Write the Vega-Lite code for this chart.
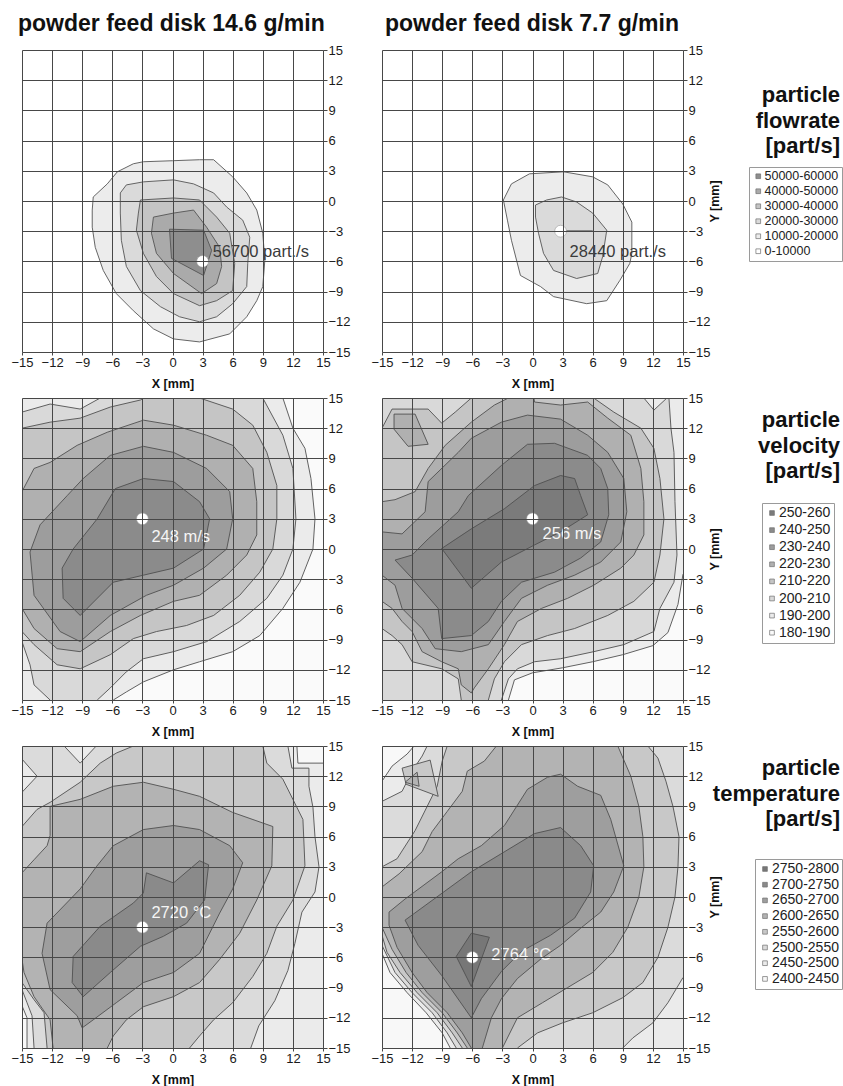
{
"$schema": "https://vega.github.io/schema/vega-lite/v6.json",
"background": "white",
"padding": {"left": 10, "top": 13, "right": 0, "bottom": 0},
"columns": 3,
"spacing": {"row": 46, "column": 59},
"bounds": "flush",
"resolve": {"scale": {"fill": "independent"}, "legend": {"fill": "independent"}},
"config": {
 "font": "Liberation Sans",
 "view": {"stroke": null},
 "axis": {"grid": true, "gridColor": "#474747", "gridWidth": 1, "gridOpacity": 1, "domain": false, "tickColor": "#474747", "tickWidth": 1, "labelFont": "Liberation Sans", "labelFontSize": 13, "labelColor": "#1a1a1a", "labelPadding": 1, "labelOverlap": false, "labelFlush": false, "titleFont": "Liberation Sans", "titleFontSize": 12.5, "titleFontWeight": "bold", "titleColor": "#111", "zindex": 1},
 "axisX": {"tickSize": 3, "titlePadding": 8},
 "axisY": {"tickSize": 4, "titlePadding": -2, "labelAlign": "left"},
 "legend": {"symbolType": "square", "symbolSize": 22, "symbolOpacity": 1, "symbolStrokeWidth": 0.7, "labelFont": "Liberation Sans", "labelColor": "#222", "labelOffset": 0, "strokeColor": "#9a9a9a", "fillColor": "white", "padding": 3, "orient": "none"}
},
"datasets": {
 "c1": [
  {"p":"a","l":"10000-20000","x":-8,"y":-0.9},{"p":"a","l":"10000-20000","x":-7.9,"y":0.4},{"p":"a","l":"10000-20000","x":-6.5,"y":1.7},{"p":"a","l":"10000-20000","x":-5.5,"y":2.9},{"p":"a","l":"10000-20000","x":-3.9,"y":3.7},{"p":"a","l":"10000-20000","x":-2.9,"y":3.9},{"p":"a","l":"10000-20000","x":0,"y":4},{"p":"a","l":"10000-20000","x":2.7,"y":4.1},{"p":"a","l":"10000-20000","x":4.1,"y":4.1},{"p":"a","l":"10000-20000","x":6,"y":2.4},{"p":"a","l":"10000-20000","x":7.4,"y":0.8},{"p":"a","l":"10000-20000","x":8.4,"y":-0.9},{"p":"a","l":"10000-20000","x":9,"y":-3.2},{"p":"a","l":"10000-20000","x":9.2,"y":-5.9},{"p":"a","l":"10000-20000","x":9,"y":-8.5},{"p":"a","l":"10000-20000","x":8.4,"y":-9.9},{"p":"a","l":"10000-20000","x":7.4,"y":-11.5},{"p":"a","l":"10000-20000","x":5.7,"y":-13.2},{"p":"a","l":"10000-20000","x":2.7,"y":-14},{"p":"a","l":"10000-20000","x":0.1,"y":-13.7},{"p":"a","l":"10000-20000","x":-1.9,"y":-12.7},{"p":"a","l":"10000-20000","x":-3.9,"y":-10.9},{"p":"a","l":"10000-20000","x":-5.6,"y":-9.2},{"p":"a","l":"10000-20000","x":-6.9,"y":-6.9},{"p":"a","l":"10000-20000","x":-7.7,"y":-4.6},{"p":"a","l":"10000-20000","x":-8,"y":-2.6},{"p":"a","l":"10000-20000","x":-8,"y":-0.9},
  {"p":"b","l":"20000-30000","x":-5.2,"y":0.8},{"p":"b","l":"20000-30000","x":-4.6,"y":1.6},{"p":"b","l":"20000-30000","x":-2.9,"y":1.9},{"p":"b","l":"20000-30000","x":0.1,"y":2.1},{"p":"b","l":"20000-30000","x":2.1,"y":1.7},{"p":"b","l":"20000-30000","x":4.1,"y":0.8},{"p":"b","l":"20000-30000","x":5.4,"y":-0.6},{"p":"b","l":"20000-30000","x":7,"y":-1.9},{"p":"b","l":"20000-30000","x":7.7,"y":-3.6},{"p":"b","l":"20000-30000","x":7.5,"y":-6.2},{"p":"b","l":"20000-30000","x":7.4,"y":-8.5},{"p":"b","l":"20000-30000","x":6,"y":-10.2},{"p":"b","l":"20000-30000","x":4.4,"y":-11.5},{"p":"b","l":"20000-30000","x":2.7,"y":-12},{"p":"b","l":"20000-30000","x":0.7,"y":-11.5},{"p":"b","l":"20000-30000","x":-1.2,"y":-10.5},{"p":"b","l":"20000-30000","x":-3.2,"y":-8.9},{"p":"b","l":"20000-30000","x":-4.6,"y":-6.5},{"p":"b","l":"20000-30000","x":-5.1,"y":-3.9},{"p":"b","l":"20000-30000","x":-5.2,"y":-1.2},{"p":"b","l":"20000-30000","x":-5.2,"y":0.8},
  {"p":"c","l":"30000-40000","x":-3.2,"y":0.1},{"p":"c","l":"30000-40000","x":0.1,"y":0.3},{"p":"c","l":"30000-40000","x":2.7,"y":0.1},{"p":"c","l":"30000-40000","x":4.4,"y":-1.6},{"p":"c","l":"30000-40000","x":5.7,"y":-3.2},{"p":"c","l":"30000-40000","x":6.2,"y":-6.2},{"p":"c","l":"30000-40000","x":6,"y":-8.9},{"p":"c","l":"30000-40000","x":4.4,"y":-9.9},{"p":"c","l":"30000-40000","x":2.7,"y":-10.4},{"p":"c","l":"30000-40000","x":0.1,"y":-9.2},{"p":"c","l":"30000-40000","x":-1.6,"y":-7.5},{"p":"c","l":"30000-40000","x":-2.9,"y":-5.2},{"p":"c","l":"30000-40000","x":-3.6,"y":-2.9},{"p":"c","l":"30000-40000","x":-3.4,"y":-1.2},{"p":"c","l":"30000-40000","x":-3.2,"y":0.1},
  {"p":"d","l":"40000-50000","x":-1.9,"y":-1.6},{"p":"d","l":"40000-50000","x":0.1,"y":-1.2},{"p":"d","l":"40000-50000","x":2.1,"y":-0.9},{"p":"d","l":"40000-50000","x":3.4,"y":-2.6},{"p":"d","l":"40000-50000","x":4.7,"y":-4.6},{"p":"d","l":"40000-50000","x":4.9,"y":-6.5},{"p":"d","l":"40000-50000","x":4.4,"y":-8.2},{"p":"d","l":"40000-50000","x":2.9,"y":-9.2},{"p":"d","l":"40000-50000","x":0.1,"y":-7.2},{"p":"d","l":"40000-50000","x":-1.6,"y":-5.2},{"p":"d","l":"40000-50000","x":-2.1,"y":-3.2},{"p":"d","l":"40000-50000","x":-1.9,"y":-1.6},
  {"p":"e","l":"50000-60000","x":-0.3,"y":-2.8},{"p":"e","l":"50000-60000","x":3.1,"y":-2.9},{"p":"e","l":"50000-60000","x":3.9,"y":-4.9},{"p":"e","l":"50000-60000","x":3.1,"y":-7.4},{"p":"e","l":"50000-60000","x":-0.1,"y":-5.7},{"p":"e","l":"50000-60000","x":-0.3,"y":-2.8}
 ],
 "c2": [
  {"p":"a","l":"10000-20000","x":-2.9,"y":0.1},{"p":"a","l":"10000-20000","x":-2.1,"y":1.7},{"p":"a","l":"10000-20000","x":-0.3,"y":2.7},{"p":"a","l":"10000-20000","x":3.1,"y":2.9},{"p":"a","l":"10000-20000","x":6,"y":2.4},{"p":"a","l":"10000-20000","x":7.5,"y":1.6},{"p":"a","l":"10000-20000","x":9,"y":-0.3},{"p":"a","l":"10000-20000","x":9.9,"y":-2.1},{"p":"a","l":"10000-20000","x":9.9,"y":-5.2},{"p":"a","l":"10000-20000","x":9.7,"y":-6.2},{"p":"a","l":"10000-20000","x":8.7,"y":-7.9},{"p":"a","l":"10000-20000","x":7.4,"y":-9.9},{"p":"a","l":"10000-20000","x":5.4,"y":-10.2},{"p":"a","l":"10000-20000","x":2.1,"y":-9.5},{"p":"a","l":"10000-20000","x":0.8,"y":-8.5},{"p":"a","l":"10000-20000","x":-1.2,"y":-7.4},{"p":"a","l":"10000-20000","x":-2.1,"y":-3.9},{"p":"a","l":"10000-20000","x":-2.5,"y":-1.9},{"p":"a","l":"10000-20000","x":-2.9,"y":0.1},
  {"p":"b","l":"20000-30000","x":0.3,"y":-0.4},{"p":"b","l":"20000-30000","x":1.4,"y":0.1},{"p":"b","l":"20000-30000","x":2.9,"y":0.4},{"p":"b","l":"20000-30000","x":4.4,"y":-0.1},{"p":"b","l":"20000-30000","x":6,"y":-1.2},{"p":"b","l":"20000-30000","x":7.4,"y":-2.9},{"p":"b","l":"20000-30000","x":7,"y":-5.5},{"p":"b","l":"20000-30000","x":6.5,"y":-7.2},{"p":"b","l":"20000-30000","x":4.4,"y":-7.7},{"p":"b","l":"20000-30000","x":2.1,"y":-6.9},{"p":"b","l":"20000-30000","x":1.1,"y":-5.2},{"p":"b","l":"20000-30000","x":0.6,"y":-3.2},{"p":"b","l":"20000-30000","x":0.3,"y":-1.6},{"p":"b","l":"20000-30000","x":0.3,"y":-0.4}
 ],
 "c3": [
  {"p":"a","l":"180-190","x":-16,"y":-16},{"p":"a","l":"180-190","x":-16,"y":16},{"p":"a","l":"180-190","x":16,"y":16},{"p":"a","l":"180-190","x":16,"y":-16},
  {"p":"b","l":"190-200","x":11,"y":16},{"p":"b","l":"190-200","x":11,"y":15},{"p":"b","l":"190-200","x":12,"y":12},{"p":"b","l":"190-200","x":13.2,"y":10},{"p":"b","l":"190-200","x":13.8,"y":7},{"p":"b","l":"190-200","x":14.2,"y":3},{"p":"b","l":"190-200","x":14,"y":0},{"p":"b","l":"190-200","x":12.7,"y":-3.3},{"p":"b","l":"190-200","x":11,"y":-5.9},{"p":"b","l":"190-200","x":8.7,"y":-8.6},{"p":"b","l":"190-200","x":6,"y":-10.2},{"p":"b","l":"190-200","x":2.7,"y":-11.2},{"p":"b","l":"190-200","x":0.1,"y":-12},{"p":"b","l":"190-200","x":-2.9,"y":-13.2},{"p":"b","l":"190-200","x":-4.6,"y":-14.2},{"p":"b","l":"190-200","x":-5.9,"y":-15},{"p":"b","l":"190-200","x":-5.9,"y":-16},{"p":"b","l":"190-200","x":-16,"y":-16},{"p":"b","l":"190-200","x":-16,"y":16},
  {"p":"c","l":"200-210","x":9,"y":16},{"p":"c","l":"200-210","x":9,"y":15},{"p":"c","l":"200-210","x":11,"y":11.3},{"p":"c","l":"200-210","x":12,"y":8},{"p":"c","l":"200-210","x":12.3,"y":3},{"p":"c","l":"200-210","x":12,"y":0},{"p":"c","l":"200-210","x":11,"y":-2.6},{"p":"c","l":"200-210","x":9.4,"y":-4.9},{"p":"c","l":"200-210","x":6.7,"y":-7.2},{"p":"c","l":"200-210","x":3.4,"y":-9.2},{"p":"c","l":"200-210","x":0.1,"y":-10.2},{"p":"c","l":"200-210","x":-2.9,"y":-10.9},{"p":"c","l":"200-210","x":-4.6,"y":-12.2},{"p":"c","l":"200-210","x":-6.2,"y":-13.8},{"p":"c","l":"200-210","x":-7.5,"y":-15},{"p":"c","l":"200-210","x":-7.5,"y":-16},{"p":"c","l":"200-210","x":-12.2,"y":-16},{"p":"c","l":"200-210","x":-12.2,"y":-15},{"p":"c","l":"200-210","x":-13.8,"y":-13.5},{"p":"c","l":"200-210","x":-14.2,"y":-11.5},{"p":"c","l":"200-210","x":-15,"y":-9.2},{"p":"c","l":"200-210","x":-16,"y":-9.2},{"p":"c","l":"200-210","x":-16,"y":13.6},{"p":"c","l":"200-210","x":-15,"y":13.6},{"p":"c","l":"200-210","x":-12.2,"y":14.4},{"p":"c","l":"200-210","x":-9.2,"y":13.9},{"p":"c","l":"200-210","x":-7.2,"y":15},{"p":"c","l":"200-210","x":-7.2,"y":16},
  {"p":"d","l":"210-220","x":2.7,"y":16},{"p":"d","l":"210-220","x":2.7,"y":15},{"p":"d","l":"210-220","x":6,"y":13.9},{"p":"d","l":"210-220","x":8,"y":12.3},{"p":"d","l":"210-220","x":9.4,"y":9.6},{"p":"d","l":"210-220","x":10.4,"y":6.3},{"p":"d","l":"210-220","x":10.4,"y":3},{"p":"d","l":"210-220","x":10,"y":0},{"p":"d","l":"210-220","x":8.7,"y":-2.3},{"p":"d","l":"210-220","x":6.7,"y":-4.6},{"p":"d","l":"210-220","x":4.1,"y":-6.6},{"p":"d","l":"210-220","x":1.4,"y":-7.6},{"p":"d","l":"210-220","x":-1.6,"y":-8.2},{"p":"d","l":"210-220","x":-3.9,"y":-8.9},{"p":"d","l":"210-220","x":-6.2,"y":-10.5},{"p":"d","l":"210-220","x":-9.2,"y":-11.9},{"p":"d","l":"210-220","x":-11.5,"y":-11.5},{"p":"d","l":"210-220","x":-13.8,"y":-9.5},{"p":"d","l":"210-220","x":-15,"y":-8.2},{"p":"d","l":"210-220","x":-16,"y":-8.2},{"p":"d","l":"210-220","x":-16,"y":12},{"p":"d","l":"210-220","x":-15,"y":12},{"p":"d","l":"210-220","x":-12.2,"y":12.6},{"p":"d","l":"210-220","x":-9.2,"y":13},{"p":"d","l":"210-220","x":-6.2,"y":14.1},{"p":"d","l":"210-220","x":-3.2,"y":14.8},{"p":"d","l":"210-220","x":-2,"y":15.5},{"p":"d","l":"210-220","x":-2,"y":16},
  {"p":"e","l":"220-230","x":-12.2,"y":8.6},{"p":"e","l":"220-230","x":-9.5,"y":10.3},{"p":"e","l":"220-230","x":-6.5,"y":11.6},{"p":"e","l":"220-230","x":-2.9,"y":12.8},{"p":"e","l":"220-230","x":0.1,"y":12.3},{"p":"e","l":"220-230","x":3.4,"y":11.3},{"p":"e","l":"220-230","x":6,"y":10.3},{"p":"e","l":"220-230","x":8,"y":8},{"p":"e","l":"220-230","x":8.4,"y":4.7},{"p":"e","l":"220-230","x":8.4,"y":1.4},{"p":"e","l":"220-230","x":7.4,"y":-0.6},{"p":"e","l":"220-230","x":5.4,"y":-2.6},{"p":"e","l":"220-230","x":2.7,"y":-4.6},{"p":"e","l":"220-230","x":0.1,"y":-5.2},{"p":"e","l":"220-230","x":-3.2,"y":-6.6},{"p":"e","l":"220-230","x":-6.2,"y":-8.2},{"p":"e","l":"220-230","x":-9.2,"y":-10.2},{"p":"e","l":"220-230","x":-11.5,"y":-9.9},{"p":"e","l":"220-230","x":-13.8,"y":-7.9},{"p":"e","l":"220-230","x":-15,"y":-5.9},{"p":"e","l":"220-230","x":-16,"y":-5.9},{"p":"e","l":"220-230","x":-16,"y":5.7},{"p":"e","l":"220-230","x":-15,"y":5.7},{"p":"e","l":"220-230","x":-13.8,"y":8},{"p":"e","l":"220-230","x":-12.2,"y":8.6},
  {"p":"f","l":"230-240","x":-6.2,"y":9.3},{"p":"f","l":"230-240","x":-2.9,"y":10.2},{"p":"f","l":"230-240","x":0.1,"y":9.6},{"p":"f","l":"230-240","x":3.4,"y":8},{"p":"f","l":"230-240","x":5.7,"y":5.7},{"p":"f","l":"230-240","x":6,"y":3},{"p":"f","l":"230-240","x":5.4,"y":0},{"p":"f","l":"230-240","x":3.1,"y":-1.9},{"p":"f","l":"230-240","x":0.1,"y":-3.6},{"p":"f","l":"230-240","x":-2.6,"y":-4.6},{"p":"f","l":"230-240","x":-6.2,"y":-6.6},{"p":"f","l":"230-240","x":-9.2,"y":-9.2},{"p":"f","l":"230-240","x":-11.2,"y":-8.2},{"p":"f","l":"230-240","x":-13.8,"y":-4.6},{"p":"f","l":"230-240","x":-14.2,"y":-0.3},{"p":"f","l":"230-240","x":-13.2,"y":2.4},{"p":"f","l":"230-240","x":-10.5,"y":5.3},{"p":"f","l":"230-240","x":-8.9,"y":7},{"p":"f","l":"230-240","x":-6.2,"y":9.3},
  {"p":"g","l":"240-250","x":-5.7,"y":6},{"p":"g","l":"240-250","x":-2.9,"y":7},{"p":"g","l":"240-250","x":0.1,"y":6.7},{"p":"g","l":"240-250","x":2.7,"y":4.7},{"p":"g","l":"240-250","x":3.7,"y":3},{"p":"g","l":"240-250","x":3.1,"y":0},{"p":"g","l":"240-250","x":0.1,"y":-1.9},{"p":"g","l":"240-250","x":-2.9,"y":-2.6},{"p":"g","l":"240-250","x":-5.9,"y":-3.3},{"p":"g","l":"240-250","x":-9.2,"y":-6.6},{"p":"g","l":"240-250","x":-10.9,"y":-4.9},{"p":"g","l":"240-250","x":-11,"y":-1.9},{"p":"g","l":"240-250","x":-9.9,"y":0},{"p":"g","l":"240-250","x":-7.5,"y":3},{"p":"g","l":"240-250","x":-5.7,"y":6}
 ],
 "c4": [
  {"p":"a","l":"180-190","x":-16,"y":-16},{"p":"a","l":"180-190","x":-16,"y":16},{"p":"a","l":"180-190","x":16,"y":16},{"p":"a","l":"180-190","x":16,"y":-16},
  {"p":"b","l":"190-200","x":-16,"y":16},{"p":"b","l":"190-200","x":16,"y":16},{"p":"b","l":"190-200","x":16,"y":-2.5},{"p":"b","l":"190-200","x":15,"y":-2.5},{"p":"b","l":"190-200","x":14.5,"y":-5.5},{"p":"b","l":"190-200","x":13.5,"y":-8.3},{"p":"b","l":"190-200","x":12,"y":-9.6},{"p":"b","l":"190-200","x":9,"y":-10.5},{"p":"b","l":"190-200","x":6,"y":-11.2},{"p":"b","l":"190-200","x":3,"y":-11.8},{"p":"b","l":"190-200","x":0,"y":-12.3},{"p":"b","l":"190-200","x":-1.8,"y":-13},{"p":"b","l":"190-200","x":-2.4,"y":-15},{"p":"b","l":"190-200","x":-2.4,"y":-16},{"p":"b","l":"190-200","x":-16,"y":-16},
  {"p":"c","l":"200-210","x":-16,"y":16},{"p":"c","l":"200-210","x":13.6,"y":16},{"p":"c","l":"200-210","x":13.6,"y":15},{"p":"c","l":"200-210","x":13.8,"y":12},{"p":"c","l":"200-210","x":14.1,"y":9.6},{"p":"c","l":"200-210","x":14.2,"y":4.7},{"p":"c","l":"200-210","x":14.4,"y":-0.6},{"p":"c","l":"200-210","x":14.1,"y":-3.3},{"p":"c","l":"200-210","x":12.7,"y":-5.9},{"p":"c","l":"200-210","x":12.1,"y":-8.2},{"p":"c","l":"200-210","x":9.1,"y":-9.5},{"p":"c","l":"200-210","x":6.1,"y":-10.2},{"p":"c","l":"200-210","x":2.8,"y":-10.9},{"p":"c","l":"200-210","x":0.2,"y":-11.2},{"p":"c","l":"200-210","x":-1.5,"y":-11.9},{"p":"c","l":"200-210","x":-2.4,"y":-12.9},{"p":"c","l":"200-210","x":-3.1,"y":-15},{"p":"c","l":"200-210","x":-3.1,"y":-16},{"p":"c","l":"200-210","x":-16,"y":-16},
  {"p":"c2","l":"190-200","x":11.1,"y":16},{"p":"c2","l":"190-200","x":11.1,"y":15},{"p":"c2","l":"190-200","x":12.1,"y":13.8},{"p":"c2","l":"190-200","x":13.4,"y":15},{"p":"c2","l":"190-200","x":13.4,"y":16},
  {"p":"d","l":"210-220","x":-16,"y":12},{"p":"d","l":"210-220","x":-15,"y":12},{"p":"d","l":"210-220","x":-14,"y":13.9},{"p":"d","l":"210-220","x":-10.4,"y":13.9},{"p":"d","l":"210-220","x":-9.05,"y":12.5},{"p":"d","l":"210-220","x":-7.7,"y":13.6},{"p":"d","l":"210-220","x":-6.1,"y":15},{"p":"d","l":"210-220","x":-6.1,"y":16},{"p":"d","l":"210-220","x":6.1,"y":16},{"p":"d","l":"210-220","x":6.1,"y":15},{"p":"d","l":"210-220","x":8.1,"y":13.6},{"p":"d","l":"210-220","x":10.8,"y":12},{"p":"d","l":"210-220","x":12.1,"y":10},{"p":"d","l":"210-220","x":12.7,"y":7},{"p":"d","l":"210-220","x":13.1,"y":3},{"p":"d","l":"210-220","x":12.7,"y":-0.6},{"p":"d","l":"210-220","x":12.1,"y":-3.3},{"p":"d","l":"210-220","x":10.1,"y":-5.2},{"p":"d","l":"210-220","x":7.5,"y":-6.6},{"p":"d","l":"210-220","x":4.2,"y":-7.9},{"p":"d","l":"210-220","x":1.5,"y":-8.6},{"p":"d","l":"210-220","x":-1.1,"y":-9.5},{"p":"d","l":"210-220","x":-2.8,"y":-11.2},{"p":"d","l":"210-220","x":-3.8,"y":-12.9},{"p":"d","l":"210-220","x":-4.4,"y":-15},{"p":"d","l":"210-220","x":-4.4,"y":-16},{"p":"d","l":"210-220","x":-7.1,"y":-16},{"p":"d","l":"210-220","x":-7.1,"y":-15},{"p":"d","l":"210-220","x":-7.4,"y":-12.9},{"p":"d","l":"210-220","x":-9.05,"y":-11.9},{"p":"d","l":"210-220","x":-12,"y":-11.2},{"p":"d","l":"210-220","x":-13,"y":-9.5},{"p":"d","l":"210-220","x":-14,"y":-8.6},{"p":"d","l":"210-220","x":-15,"y":-7.9},{"p":"d","l":"210-220","x":-16,"y":-7.9},
  {"p":"e","l":"220-230","x":-16,"y":4.7},{"p":"e","l":"220-230","x":-15,"y":4.7},{"p":"e","l":"220-230","x":-13.7,"y":4.9},{"p":"e","l":"220-230","x":-11.7,"y":5.7},{"p":"e","l":"220-230","x":-10.4,"y":8},{"p":"e","l":"220-230","x":-8.7,"y":10.3},{"p":"e","l":"220-230","x":-6.1,"y":12.6},{"p":"e","l":"220-230","x":-3.8,"y":14.3},{"p":"e","l":"220-230","x":-2.4,"y":15},{"p":"e","l":"220-230","x":-2.4,"y":16},{"p":"e","l":"220-230","x":0,"y":16},{"p":"e","l":"220-230","x":0.2,"y":14.6},{"p":"e","l":"220-230","x":2.8,"y":14.3},{"p":"e","l":"220-230","x":5.5,"y":14.6},{"p":"e","l":"220-230","x":7.5,"y":13},{"p":"e","l":"220-230","x":9.8,"y":11.3},{"p":"e","l":"220-230","x":10.8,"y":8},{"p":"e","l":"220-230","x":11.1,"y":4.7},{"p":"e","l":"220-230","x":11.1,"y":1.4},{"p":"e","l":"220-230","x":10.1,"y":-0.6},{"p":"e","l":"220-230","x":8.8,"y":-1.9},{"p":"e","l":"220-230","x":6.1,"y":-3.6},{"p":"e","l":"220-230","x":3.5,"y":-4.9},{"p":"e","l":"220-230","x":0.9,"y":-5.9},{"p":"e","l":"220-230","x":-1.5,"y":-7.2},{"p":"e","l":"220-230","x":-2.8,"y":-9.5},{"p":"e","l":"220-230","x":-4.4,"y":-11.9},{"p":"e","l":"220-230","x":-5.8,"y":-13.8},{"p":"e","l":"220-230","x":-6.1,"y":-14.3},{"p":"e","l":"220-230","x":-7.1,"y":-13.5},{"p":"e","l":"220-230","x":-7.4,"y":-11.9},{"p":"e","l":"220-230","x":-9.05,"y":-11.2},{"p":"e","l":"220-230","x":-11,"y":-10.2},{"p":"e","l":"220-230","x":-12,"y":-8.2},{"p":"e","l":"220-230","x":-13,"y":-7.2},{"p":"e","l":"220-230","x":-14,"y":-5.9},{"p":"e","l":"220-230","x":-15,"y":-5.2},{"p":"e","l":"220-230","x":-16,"y":-5.2},
  {"p":"e2","l":"220-230","x":-13.8,"y":13.4},{"p":"e2","l":"220-230","x":-11.7,"y":13.4},{"p":"e2","l":"220-230","x":-10.4,"y":10.4},{"p":"e2","l":"220-230","x":-12.4,"y":10.2},{"p":"e2","l":"220-230","x":-13.8,"y":11.9},{"p":"e2","l":"220-230","x":-13.8,"y":13.4},
  {"p":"f","l":"230-240","x":-16,"y":1.7},{"p":"f","l":"230-240","x":-15,"y":1.7},{"p":"f","l":"230-240","x":-13,"y":1.5},{"p":"f","l":"230-240","x":-10.7,"y":3.7},{"p":"f","l":"230-240","x":-10.4,"y":6.7},{"p":"f","l":"230-240","x":-7.4,"y":9.6},{"p":"f","l":"230-240","x":-6.1,"y":11},{"p":"f","l":"230-240","x":-3.1,"y":12.6},{"p":"f","l":"230-240","x":-0.5,"y":13.3},{"p":"f","l":"230-240","x":2.8,"y":12.9},{"p":"f","l":"230-240","x":5.5,"y":11.3},{"p":"f","l":"230-240","x":7.5,"y":9.6},{"p":"f","l":"230-240","x":9.1,"y":7},{"p":"f","l":"230-240","x":9.4,"y":3.7},{"p":"f","l":"230-240","x":8.8,"y":0.7},{"p":"f","l":"230-240","x":6.8,"y":-1.3},{"p":"f","l":"230-240","x":4.2,"y":-2.6},{"p":"f","l":"230-240","x":1.5,"y":-3.6},{"p":"f","l":"230-240","x":-1.1,"y":-4.9},{"p":"f","l":"230-240","x":-2.8,"y":-7.2},{"p":"f","l":"230-240","x":-4.4,"y":-9.5},{"p":"f","l":"230-240","x":-7.1,"y":-10.2},{"p":"f","l":"230-240","x":-9.7,"y":-9.9},{"p":"f","l":"230-240","x":-11,"y":-7.9},{"p":"f","l":"230-240","x":-13,"y":-5.9},{"p":"f","l":"230-240","x":-13.7,"y":-3.6},{"p":"f","l":"230-240","x":-15,"y":-2.6},{"p":"f","l":"230-240","x":-16,"y":-2.6},
  {"p":"g","l":"240-250","x":-13.7,"y":-1.1},{"p":"g","l":"240-250","x":-12,"y":-0.6},{"p":"g","l":"240-250","x":-10.4,"y":1},{"p":"g","l":"240-250","x":-7.4,"y":3.7},{"p":"g","l":"240-250","x":-6.4,"y":5.3},{"p":"g","l":"240-250","x":-3.1,"y":8.3},{"p":"g","l":"240-250","x":-0.5,"y":10.4},{"p":"g","l":"240-250","x":2.2,"y":10.5},{"p":"g","l":"240-250","x":5.5,"y":9.3},{"p":"g","l":"240-250","x":6.8,"y":8},{"p":"g","l":"240-250","x":7.5,"y":6},{"p":"g","l":"240-250","x":7.6,"y":3.4},{"p":"g","l":"240-250","x":6.8,"y":0.7},{"p":"g","l":"240-250","x":4.8,"y":-0.9},{"p":"g","l":"240-250","x":2.2,"y":-2.3},{"p":"g","l":"240-250","x":-1.1,"y":-3.3},{"p":"g","l":"240-250","x":-3.1,"y":-5.2},{"p":"g","l":"240-250","x":-4.4,"y":-7.2},{"p":"g","l":"240-250","x":-6.1,"y":-8.6},{"p":"g","l":"240-250","x":-9.05,"y":-8.9},{"p":"g","l":"240-250","x":-9.4,"y":-5.9},{"p":"g","l":"240-250","x":-12,"y":-2.9},{"p":"g","l":"240-250","x":-13.7,"y":-1.1},
  {"p":"h","l":"250-260","x":-9.05,"y":0.05},{"p":"h","l":"250-260","x":-6.1,"y":-3.9},{"p":"h","l":"250-260","x":-3.1,"y":-1.3},{"p":"h","l":"250-260","x":0.2,"y":0.4},{"p":"h","l":"250-260","x":2.8,"y":1.7},{"p":"h","l":"250-260","x":5.5,"y":3.4},{"p":"h","l":"250-260","x":4.8,"y":5.3},{"p":"h","l":"250-260","x":4.2,"y":7},{"p":"h","l":"250-260","x":2.8,"y":7.3},{"p":"h","l":"250-260","x":0.2,"y":6.3},{"p":"h","l":"250-260","x":-2.8,"y":4},{"p":"h","l":"250-260","x":-6.1,"y":2},{"p":"h","l":"250-260","x":-9.05,"y":0.05}
 ],
 "c5": [
  {"p":"a","l":"2400-2450","x":-16,"y":-16},{"p":"a","l":"2400-2450","x":-16,"y":16},{"p":"a","l":"2400-2450","x":16,"y":16},{"p":"a","l":"2400-2450","x":16,"y":-16},
  {"p":"b","l":"2450-2500","x":-16,"y":16},{"p":"b","l":"2450-2500","x":12.4,"y":16},{"p":"b","l":"2450-2500","x":12.4,"y":15},{"p":"b","l":"2450-2500","x":12.5,"y":13.3},{"p":"b","l":"2450-2500","x":16,"y":13.3},{"p":"b","l":"2450-2500","x":16,"y":-16},{"p":"b","l":"2450-2500","x":-14.5,"y":-16},{"p":"b","l":"2450-2500","x":-14.5,"y":-15},{"p":"b","l":"2450-2500","x":-14.5,"y":-12},{"p":"b","l":"2450-2500","x":-15,"y":-10.8},{"p":"b","l":"2450-2500","x":-16,"y":-10.8},
  {"p":"c","l":"2500-2550","x":-16,"y":-9.2},{"p":"c","l":"2500-2550","x":-16,"y":10.4},{"p":"c","l":"2500-2550","x":-15,"y":10.4},{"p":"c","l":"2500-2550","x":-13.5,"y":12},{"p":"c","l":"2500-2550","x":-15,"y":13.7},{"p":"c","l":"2500-2550","x":-16,"y":13.7},{"p":"c","l":"2500-2550","x":-16,"y":16},{"p":"c","l":"2500-2550","x":-10.8,"y":16},{"p":"c","l":"2500-2550","x":-10.8,"y":15},{"p":"c","l":"2500-2550","x":-9.2,"y":13.3},{"p":"c","l":"2500-2550","x":-7.6,"y":15},{"p":"c","l":"2500-2550","x":-7.6,"y":16},{"p":"c","l":"2500-2550","x":11.5,"y":16},{"p":"c","l":"2500-2550","x":11.5,"y":15},{"p":"c","l":"2500-2550","x":11.9,"y":12.8},{"p":"c","l":"2500-2550","x":13.6,"y":12.8},{"p":"c","l":"2500-2550","x":13.6,"y":11},{"p":"c","l":"2500-2550","x":14,"y":8.9},{"p":"c","l":"2500-2550","x":14.2,"y":6},{"p":"c","l":"2500-2550","x":14.6,"y":3},{"p":"c","l":"2500-2550","x":14.2,"y":0.5},{"p":"c","l":"2500-2550","x":12.9,"y":-1.5},{"p":"c","l":"2500-2550","x":12.2,"y":-4.6},{"p":"c","l":"2500-2550","x":11.5,"y":-7.3},{"p":"c","l":"2500-2550","x":10.2,"y":-10.3},{"p":"c","l":"2500-2550","x":8.6,"y":-12.8},{"p":"c","l":"2500-2550","x":7.8,"y":-15},{"p":"c","l":"2500-2550","x":7.8,"y":-16},{"p":"c","l":"2500-2550","x":-13.8,"y":-16},{"p":"c","l":"2500-2550","x":-13.8,"y":-15},{"p":"c","l":"2500-2550","x":-14,"y":-11.8},{"p":"c","l":"2500-2550","x":-14.5,"y":-10.5},{"p":"c","l":"2500-2550","x":-15,"y":-9.2},
  {"p":"d","l":"2550-2600","x":-16,"y":7},{"p":"d","l":"2550-2600","x":-15,"y":7},{"p":"d","l":"2550-2600","x":-13.5,"y":8.7},{"p":"d","l":"2550-2600","x":-12.2,"y":9.4},{"p":"d","l":"2550-2600","x":-9.2,"y":11.4},{"p":"d","l":"2550-2600","x":-7.2,"y":13.3},{"p":"d","l":"2550-2600","x":-5.6,"y":14.3},{"p":"d","l":"2550-2600","x":-3.9,"y":15},{"p":"d","l":"2550-2600","x":-3.9,"y":16},{"p":"d","l":"2550-2600","x":9,"y":16},{"p":"d","l":"2550-2600","x":9,"y":15},{"p":"d","l":"2550-2600","x":9.4,"y":13.3},{"p":"d","l":"2550-2600","x":11,"y":11.7},{"p":"d","l":"2550-2600","x":12,"y":9.7},{"p":"d","l":"2550-2600","x":13,"y":7.7},{"p":"d","l":"2550-2600","x":13.2,"y":3.1},{"p":"d","l":"2550-2600","x":12,"y":-0.3},{"p":"d","l":"2550-2600","x":10.4,"y":-2.9},{"p":"d","l":"2550-2600","x":9.4,"y":-5.6},{"p":"d","l":"2550-2600","x":8,"y":-7.9},{"p":"d","l":"2550-2600","x":6,"y":-10.5},{"p":"d","l":"2550-2600","x":4.1,"y":-12.2},{"p":"d","l":"2550-2600","x":2.7,"y":-13.8},{"p":"d","l":"2550-2600","x":1.7,"y":-15},{"p":"d","l":"2550-2600","x":1.7,"y":-16},{"p":"d","l":"2550-2600","x":-12.5,"y":-16},{"p":"d","l":"2550-2600","x":-12.5,"y":-15},{"p":"d","l":"2550-2600","x":-12.8,"y":-11.5},{"p":"d","l":"2550-2600","x":-13.8,"y":-10.2},{"p":"d","l":"2550-2600","x":-15,"y":-8.5},{"p":"d","l":"2550-2600","x":-16,"y":-8.5},
  {"p":"e","l":"2600-2650","x":-12.2,"y":6.1},{"p":"e","l":"2600-2650","x":-12.2,"y":9},{"p":"e","l":"2600-2650","x":-9.2,"y":9.7},{"p":"e","l":"2600-2650","x":-5.9,"y":11},{"p":"e","l":"2600-2650","x":-2.9,"y":11.4},{"p":"e","l":"2600-2650","x":0.1,"y":10.7},{"p":"e","l":"2600-2650","x":2.7,"y":10},{"p":"e","l":"2600-2650","x":6,"y":8.4},{"p":"e","l":"2600-2650","x":10,"y":7},{"p":"e","l":"2600-2650","x":9.9,"y":3.1},{"p":"e","l":"2600-2650","x":8.4,"y":-0.3},{"p":"e","l":"2600-2650","x":6.7,"y":-3.6},{"p":"e","l":"2600-2650","x":4.7,"y":-6.2},{"p":"e","l":"2600-2650","x":2.7,"y":-8.5},{"p":"e","l":"2600-2650","x":0.1,"y":-9.9},{"p":"e","l":"2600-2650","x":-2.9,"y":-10.9},{"p":"e","l":"2600-2650","x":-4.6,"y":-12.2},{"p":"e","l":"2600-2650","x":-5.9,"y":-13.8},{"p":"e","l":"2600-2650","x":-6.5,"y":-15},{"p":"e","l":"2600-2650","x":-6.5,"y":-16},{"p":"e","l":"2600-2650","x":-11.9,"y":-16},{"p":"e","l":"2600-2650","x":-11.9,"y":-15},{"p":"e","l":"2600-2650","x":-12.2,"y":-12.2},{"p":"e","l":"2600-2650","x":-13.8,"y":-9.9},{"p":"e","l":"2600-2650","x":-14.8,"y":-7.5},{"p":"e","l":"2600-2650","x":-15,"y":-6.2},{"p":"e","l":"2600-2650","x":-16,"y":-6.2},{"p":"e","l":"2600-2650","x":-16,"y":2.4},{"p":"e","l":"2600-2650","x":-15,"y":2.4},{"p":"e","l":"2600-2650","x":-13.8,"y":3.7},{"p":"e","l":"2600-2650","x":-12.5,"y":5.1},{"p":"e","l":"2600-2650","x":-12.2,"y":6.1},
  {"p":"f","l":"2650-2700","x":-5.9,"y":5.1},{"p":"f","l":"2650-2700","x":-2.9,"y":6.7},{"p":"f","l":"2650-2700","x":0.1,"y":7.1},{"p":"f","l":"2650-2700","x":2.7,"y":6.7},{"p":"f","l":"2650-2700","x":5.7,"y":5.1},{"p":"f","l":"2650-2700","x":7,"y":3.4},{"p":"f","l":"2650-2700","x":6,"y":0.8},{"p":"f","l":"2650-2700","x":4.7,"y":-1.6},{"p":"f","l":"2650-2700","x":2.7,"y":-5.6},{"p":"f","l":"2650-2700","x":0.1,"y":-7.5},{"p":"f","l":"2650-2700","x":-2.9,"y":-8.5},{"p":"f","l":"2650-2700","x":-5.6,"y":-10.5},{"p":"f","l":"2650-2700","x":-7.9,"y":-12.2},{"p":"f","l":"2650-2700","x":-9,"y":-13},{"p":"f","l":"2650-2700","x":-9.5,"y":-11.8},{"p":"f","l":"2650-2700","x":-12.2,"y":-9.2},{"p":"f","l":"2650-2700","x":-13,"y":-5.6},{"p":"f","l":"2650-2700","x":-12.5,"y":-2.6},{"p":"f","l":"2650-2700","x":-9.2,"y":0.8},{"p":"f","l":"2650-2700","x":-7.6,"y":3},{"p":"f","l":"2650-2700","x":-5.9,"y":5.1},
  {"p":"g","l":"2700-2750","x":-2.6,"y":2.4},{"p":"g","l":"2700-2750","x":0.1,"y":1.4},{"p":"g","l":"2700-2750","x":2.7,"y":3.6},{"p":"g","l":"2700-2750","x":3.6,"y":3.2},{"p":"g","l":"2700-2750","x":3.2,"y":-0.3},{"p":"g","l":"2700-2750","x":1.4,"y":-2.6},{"p":"g","l":"2700-2750","x":-0.9,"y":-3.9},{"p":"g","l":"2700-2750","x":-3.2,"y":-4.9},{"p":"g","l":"2700-2750","x":-6.2,"y":-7.5},{"p":"g","l":"2700-2750","x":-8.9,"y":-9.9},{"p":"g","l":"2700-2750","x":-10,"y":-8.5},{"p":"g","l":"2700-2750","x":-9.9,"y":-5.9},{"p":"g","l":"2700-2750","x":-7.2,"y":-2.9},{"p":"g","l":"2700-2750","x":-3.9,"y":-0.6},{"p":"g","l":"2700-2750","x":-2.9,"y":0.4},{"p":"g","l":"2700-2750","x":-2.6,"y":2.4}
 ],
 "c6": [
  {"p":"a","l":"2400-2450","x":-16,"y":-16},{"p":"a","l":"2400-2450","x":-16,"y":16},{"p":"a","l":"2400-2450","x":16,"y":16},{"p":"a","l":"2400-2450","x":16,"y":-16},
  {"p":"b","l":"2450-2500","x":-11.8,"y":16},{"p":"b","l":"2450-2500","x":16,"y":16},{"p":"b","l":"2450-2500","x":16,"y":-16},{"p":"b","l":"2450-2500","x":-8.2,"y":-16},{"p":"b","l":"2450-2500","x":-8.2,"y":-15},{"p":"b","l":"2450-2500","x":-9,"y":-13.5},{"p":"b","l":"2450-2500","x":-10.6,"y":-11.5},{"p":"b","l":"2450-2500","x":-12.5,"y":-9.5},{"p":"b","l":"2450-2500","x":-14.2,"y":-7.5},{"p":"b","l":"2450-2500","x":-15,"y":-5.6},{"p":"b","l":"2450-2500","x":-16,"y":-5.6},{"p":"b","l":"2450-2500","x":-16,"y":11.5},{"p":"b","l":"2450-2500","x":-15,"y":11.5},{"p":"b","l":"2450-2500","x":-14,"y":13},{"p":"b","l":"2450-2500","x":-12.5,"y":14.2},{"p":"b","l":"2450-2500","x":-11.8,"y":15},{"p":"b","l":"2450-2500","x":-11.8,"y":16},
  {"p":"c","l":"2500-2550","x":-10.5,"y":16},{"p":"c","l":"2500-2550","x":16,"y":16},{"p":"c","l":"2500-2550","x":16,"y":-8},{"p":"c","l":"2500-2550","x":15,"y":-8},{"p":"c","l":"2500-2550","x":13.5,"y":-10.5},{"p":"c","l":"2500-2550","x":12,"y":-12.5},{"p":"c","l":"2500-2550","x":10,"y":-14},{"p":"c","l":"2500-2550","x":9,"y":-15},{"p":"c","l":"2500-2550","x":9,"y":-16},{"p":"c","l":"2500-2550","x":-7.6,"y":-16},{"p":"c","l":"2500-2550","x":-7.6,"y":-15},{"p":"c","l":"2500-2550","x":-8.5,"y":-13.5},{"p":"c","l":"2500-2550","x":-10,"y":-11.5},{"p":"c","l":"2500-2550","x":-12,"y":-9.5},{"p":"c","l":"2500-2550","x":-13.7,"y":-7.5},{"p":"c","l":"2500-2550","x":-15,"y":-4.8},{"p":"c","l":"2500-2550","x":-16,"y":-4.8},{"p":"c","l":"2500-2550","x":-16,"y":9.5},{"p":"c","l":"2500-2550","x":-15,"y":9.5},{"p":"c","l":"2500-2550","x":-13,"y":10.5},{"p":"c","l":"2500-2550","x":-12,"y":12.5},{"p":"c","l":"2500-2550","x":-11,"y":14},{"p":"c","l":"2500-2550","x":-10.5,"y":15},{"p":"c","l":"2500-2550","x":-10.5,"y":16},
  {"p":"d","l":"2550-2600","x":-8.5,"y":16},{"p":"d","l":"2550-2600","x":11.5,"y":16},{"p":"d","l":"2550-2600","x":11.5,"y":15},{"p":"d","l":"2550-2600","x":12.5,"y":13.8},{"p":"d","l":"2550-2600","x":13.3,"y":11.5},{"p":"d","l":"2550-2600","x":14,"y":9},{"p":"d","l":"2550-2600","x":14.6,"y":6},{"p":"d","l":"2550-2600","x":14.5,"y":3},{"p":"d","l":"2550-2600","x":14.2,"y":0},{"p":"d","l":"2550-2600","x":13.5,"y":-3},{"p":"d","l":"2550-2600","x":12.5,"y":-6},{"p":"d","l":"2550-2600","x":11,"y":-8.5},{"p":"d","l":"2550-2600","x":9,"y":-10},{"p":"d","l":"2550-2600","x":6,"y":-11.5},{"p":"d","l":"2550-2600","x":3,"y":-12.5},{"p":"d","l":"2550-2600","x":0.5,"y":-13.5},{"p":"d","l":"2550-2600","x":-1.5,"y":-15},{"p":"d","l":"2550-2600","x":-1.5,"y":-16},{"p":"d","l":"2550-2600","x":-7,"y":-16},{"p":"d","l":"2550-2600","x":-7,"y":-15},{"p":"d","l":"2550-2600","x":-8,"y":-13.5},{"p":"d","l":"2550-2600","x":-9.5,"y":-11.5},{"p":"d","l":"2550-2600","x":-11.5,"y":-9.5},{"p":"d","l":"2550-2600","x":-13.2,"y":-7.5},{"p":"d","l":"2550-2600","x":-14.5,"y":-5.5},{"p":"d","l":"2550-2600","x":-15,"y":-3.8},{"p":"d","l":"2550-2600","x":-16,"y":-3.8},{"p":"d","l":"2550-2600","x":-16,"y":3},{"p":"d","l":"2550-2600","x":-15,"y":3},{"p":"d","l":"2550-2600","x":-13.5,"y":3.8},{"p":"d","l":"2550-2600","x":-11.7,"y":6.6},{"p":"d","l":"2550-2600","x":-10.5,"y":9},{"p":"d","l":"2550-2600","x":-9.5,"y":11},{"p":"d","l":"2550-2600","x":-9,"y":13.5},{"p":"d","l":"2550-2600","x":-8.5,"y":15},{"p":"d","l":"2550-2600","x":-8.5,"y":16},
  {"p":"d2","l":"2550-2600","x":-13,"y":12.8},{"p":"d2","l":"2550-2600","x":-10.2,"y":13.6},{"p":"d2","l":"2550-2600","x":-9.4,"y":10},{"p":"d2","l":"2550-2600","x":-12.6,"y":11.2},{"p":"d2","l":"2550-2600","x":-13,"y":12.8},
  {"p":"e","l":"2600-2650","x":-3.6,"y":16},{"p":"e","l":"2600-2650","x":8.5,"y":16},{"p":"e","l":"2600-2650","x":8.5,"y":15},{"p":"e","l":"2600-2650","x":9.8,"y":12},{"p":"e","l":"2600-2650","x":10.6,"y":9},{"p":"e","l":"2600-2650","x":11,"y":6},{"p":"e","l":"2600-2650","x":11.1,"y":3},{"p":"e","l":"2600-2650","x":10.6,"y":0},{"p":"e","l":"2600-2650","x":9.5,"y":-3},{"p":"e","l":"2600-2650","x":8,"y":-5.5},{"p":"e","l":"2600-2650","x":6,"y":-7.5},{"p":"e","l":"2600-2650","x":3.5,"y":-9},{"p":"e","l":"2600-2650","x":1,"y":-10.5},{"p":"e","l":"2600-2650","x":-1.5,"y":-12},{"p":"e","l":"2600-2650","x":-3,"y":-15},{"p":"e","l":"2600-2650","x":-3,"y":-16},{"p":"e","l":"2600-2650","x":-6.5,"y":-16},{"p":"e","l":"2600-2650","x":-6.5,"y":-15},{"p":"e","l":"2600-2650","x":-7.5,"y":-13.5},{"p":"e","l":"2600-2650","x":-9,"y":-11.5},{"p":"e","l":"2600-2650","x":-11,"y":-9.5},{"p":"e","l":"2600-2650","x":-12.6,"y":-7.5},{"p":"e","l":"2600-2650","x":-14,"y":-5.2},{"p":"e","l":"2600-2650","x":-15,"y":-3},{"p":"e","l":"2600-2650","x":-16,"y":-3},{"p":"e","l":"2600-2650","x":-16,"y":1},{"p":"e","l":"2600-2650","x":-15,"y":1},{"p":"e","l":"2600-2650","x":-13.3,"y":2.3},{"p":"e","l":"2600-2650","x":-11,"y":4.5},{"p":"e","l":"2600-2650","x":-10,"y":6.5},{"p":"e","l":"2600-2650","x":-8.5,"y":8.5},{"p":"e","l":"2600-2650","x":-7,"y":10.5},{"p":"e","l":"2600-2650","x":-6.5,"y":12.5},{"p":"e","l":"2600-2650","x":-4.8,"y":13.5},{"p":"e","l":"2600-2650","x":-3.6,"y":15},{"p":"e","l":"2600-2650","x":-3.6,"y":16},
  {"p":"e2","l":"2600-2650","x":-12.7,"y":11.4},{"p":"e2","l":"2600-2650","x":-11.5,"y":12.4},{"p":"e2","l":"2600-2650","x":-11.3,"y":11},{"p":"e2","l":"2600-2650","x":-12.7,"y":11.4},
  {"p":"f","l":"2650-2700","x":-14.3,"y":-1.5},{"p":"f","l":"2650-2700","x":-12.7,"y":-0.2},{"p":"f","l":"2650-2700","x":-9.05,"y":2.5},{"p":"f","l":"2650-2700","x":-7.4,"y":3.8},{"p":"f","l":"2650-2700","x":-5.1,"y":5.1},{"p":"f","l":"2650-2700","x":-2.8,"y":7.1},{"p":"f","l":"2650-2700","x":-0.5,"y":10.7},{"p":"f","l":"2650-2700","x":1.5,"y":11.9},{"p":"f","l":"2650-2700","x":2.8,"y":12.2},{"p":"f","l":"2650-2700","x":4.5,"y":11},{"p":"f","l":"2650-2700","x":6.8,"y":10.1},{"p":"f","l":"2650-2700","x":7.8,"y":7.7},{"p":"f","l":"2650-2700","x":9.1,"y":3.1},{"p":"f","l":"2650-2700","x":8.1,"y":0.5},{"p":"f","l":"2650-2700","x":6.8,"y":-1.5},{"p":"f","l":"2650-2700","x":4.8,"y":-3.1},{"p":"f","l":"2650-2700","x":2.8,"y":-4.8},{"p":"f","l":"2650-2700","x":0.9,"y":-6.1},{"p":"f","l":"2650-2700","x":-1.5,"y":-8.1},{"p":"f","l":"2650-2700","x":-3.1,"y":-10.1},{"p":"f","l":"2650-2700","x":-4.1,"y":-12},{"p":"f","l":"2650-2700","x":-5,"y":-15},{"p":"f","l":"2650-2700","x":-5,"y":-16},{"p":"f","l":"2650-2700","x":-6.1,"y":-16},{"p":"f","l":"2650-2700","x":-6.1,"y":-15},{"p":"f","l":"2650-2700","x":-7,"y":-13.5},{"p":"f","l":"2650-2700","x":-8.5,"y":-11.5},{"p":"f","l":"2650-2700","x":-10.5,"y":-9.5},{"p":"f","l":"2650-2700","x":-12,"y":-7.5},{"p":"f","l":"2650-2700","x":-13.5,"y":-5},{"p":"f","l":"2650-2700","x":-14.3,"y":-2.8},{"p":"f","l":"2650-2700","x":-14.3,"y":-1.5},
  {"p":"g","l":"2700-2750","x":-12.7,"y":-2.3},{"p":"g","l":"2700-2750","x":-6.1,"y":2.5},{"p":"g","l":"2700-2750","x":0.2,"y":6.3},{"p":"g","l":"2700-2750","x":2.8,"y":6.9},{"p":"g","l":"2700-2750","x":4.8,"y":5.1},{"p":"g","l":"2700-2750","x":6.1,"y":3.1},{"p":"g","l":"2700-2750","x":5.8,"y":0.5},{"p":"g","l":"2700-2750","x":4.2,"y":-2.1},{"p":"g","l":"2700-2750","x":1.8,"y":-3.8},{"p":"g","l":"2700-2750","x":-1.1,"y":-5.4},{"p":"g","l":"2700-2750","x":-3.1,"y":-7.4},{"p":"g","l":"2700-2750","x":-5.1,"y":-10.1},{"p":"g","l":"2700-2750","x":-6.1,"y":-12},{"p":"g","l":"2700-2750","x":-9.05,"y":-7.8},{"p":"g","l":"2700-2750","x":-11.4,"y":-4.8},{"p":"g","l":"2700-2750","x":-12.7,"y":-2.3},
  {"p":"h","l":"2750-2800","x":-6.1,"y":-3.6},{"p":"h","l":"2750-2800","x":-4.3,"y":-4},{"p":"h","l":"2750-2800","x":-6.1,"y":-8.9},{"p":"h","l":"2750-2800","x":-7.6,"y":-5.9},{"p":"h","l":"2750-2800","x":-6.1,"y":-3.6}
 ],
 "m1": [{"x":3,"y":-6}], "t1": [{"x":4,"y":-5.1,"t":"56700 part./s"}],
 "m2": [{"x":2.8,"y":-3}], "t2": [{"x":3.7,"y":-5.1,"t":"28440 part./s"}], "r2": [{"x":2.8,"x2":6,"y":-3}],
 "m3": [{"x":-3,"y":3}], "t3": [{"x":-2.1,"y":1.2,"t":"248 m/s"}],
 "m4": [{"x":0,"y":3}], "t4": [{"x":1,"y":1.5,"t":"256 m/s"}],
 "m5": [{"x":-3,"y":-3}], "t5": [{"x":-2.1,"y":-1.6,"t":"2720 °C"}],
 "m6": [{"x":-6,"y":-6}], "t6": [{"x":-4.1,"y":-5.8,"t":"2764 °C"}],
 "lf": [{"l":"50000-60000"},{"l":"40000-50000"},{"l":"30000-40000"},{"l":"20000-30000"},{"l":"10000-20000"},{"l":"0-10000"}],
 "lv": [{"l":"250-260"},{"l":"240-250"},{"l":"230-240"},{"l":"220-230"},{"l":"210-220"},{"l":"200-210"},{"l":"190-200"},{"l":"180-190"}],
 "lt": [{"l":"2750-2800"},{"l":"2700-2750"},{"l":"2650-2700"},{"l":"2600-2650"},{"l":"2550-2600"},{"l":"2500-2550"},{"l":"2450-2500"},{"l":"2400-2450"}]
},
"concat": [
 {"width": 301, "height": 302,
  "title": {"text": "powder feed disk 14.6 g/min", "anchor": "start", "frame": "group", "fontSize": 23, "fontWeight": "bold", "color": "#111", "baseline": "alphabetic", "offset": -10, "dx": -4},
  "encoding": {"x": {"field": "x", "type": "quantitative", "scale": {"domain": [-15, 15], "nice": false, "zero": false}, "axis": {"values": [-15,-12,-9,-6,-3,0,3,6,9,12,15], "title": "X [mm]", "zindex": 1}},
               "y": {"field": "y", "type": "quantitative", "scale": {"domain": [-15, 15], "nice": false, "zero": false}, "axis": {"orient": "right", "values": [-15,-12,-9,-6,-3,0,3,6,9,12,15], "title": null, "zindex": 1}}},
  "layer": [
   {"data": {"name": "c1"}, "mark": {"type": "line", "clip": true, "stroke": "#555555", "strokeWidth": 0.9, "strokeJoin": "round"},
    "encoding": {"fill": {"field": "l", "type": "nominal", "scale": {"domain": ["50000-60000","40000-50000","30000-40000","20000-30000","10000-20000","0-10000"], "range": ["#8e8e8e","#aaaaaa","#c4c4c4","#dadada","#ececec","#ffffff"]}, "legend": null}, "detail": {"field": "p", "type": "nominal"}, "order": {"value": null}}},
   {"data": {"name": "m1"}, "mark": {"type": "point", "shape": "circle", "filled": true, "fill": "#ffffff", "stroke": "#9a9a9a", "strokeWidth": 0.6, "size": 140, "opacity": 1}},
   {"data": {"name": "t1"}, "mark": {"type": "text", "align": "left", "baseline": "middle", "fontSize": 16.5, "color": "#3a3a3a"}, "encoding": {"text": {"field": "t"}}}
  ]},
 {"width": 301, "height": 302,
  "title": {"text": "powder feed disk 7.7 g/min", "anchor": "start", "frame": "group", "fontSize": 23, "fontWeight": "bold", "color": "#111", "baseline": "alphabetic", "offset": -10, "dx": 3},
  "encoding": {"x": {"field": "x", "type": "quantitative", "scale": {"domain": [-15, 15], "nice": false, "zero": false}, "axis": {"values": [-15,-12,-9,-6,-3,0,3,6,9,12,15], "title": "X [mm]", "zindex": 1}},
               "y": {"field": "y", "type": "quantitative", "scale": {"domain": [-15, 15], "nice": false, "zero": false}, "axis": {"orient": "right", "values": [-15,-12,-9,-6,-3,0,3,6,9,12,15], "title": "Y [mm]", "titleAngle": 270, "titleBaseline": "top", "zindex": 1}}},
  "layer": [
   {"data": {"name": "c2"}, "mark": {"type": "line", "clip": true, "stroke": "#555555", "strokeWidth": 0.9, "strokeJoin": "round"},
    "encoding": {"fill": {"field": "l", "type": "nominal", "scale": {"domain": ["50000-60000","40000-50000","30000-40000","20000-30000","10000-20000","0-10000"], "range": ["#8e8e8e","#aaaaaa","#c4c4c4","#dadada","#ececec","#ffffff"]}, "legend": null}, "detail": {"field": "p", "type": "nominal"}, "order": {"value": null}}},
   {"data": {"name": "r2"}, "mark": {"type": "rule", "stroke": "#333", "strokeWidth": 1.6}, "encoding": {"x2": {"field": "x2"}}},
   {"data": {"name": "m2"}, "mark": {"type": "point", "shape": "circle", "filled": true, "fill": "#ffffff", "stroke": "#9a9a9a", "strokeWidth": 0.6, "size": 140, "opacity": 1}},
   {"data": {"name": "t2"}, "mark": {"type": "text", "align": "left", "baseline": "middle", "fontSize": 16.5, "color": "#3a3a3a"}, "encoding": {"text": {"field": "t"}}}
  ]},
 {"width": 101, "height": 302,
  "title": {"text": ["particle", "flowrate", "[part/s]"], "anchor": "end", "frame": "group", "fontSize": 22, "fontWeight": "bold", "color": "#111", "baseline": "alphabetic", "lineHeight": 25.5, "offset": -125, "dx": -3},
  "data": {"name": "lf"},
  "mark": {"type": "square", "opacity": 0, "size": 22, "stroke": "#6e6e6e", "strokeWidth": 0.7},
  "encoding": {"fill": {"field": "l", "type": "nominal", "scale": {"domain": ["50000-60000","40000-50000","30000-40000","20000-30000","10000-20000","0-10000"], "range": ["#8e8e8e","#aaaaaa","#c4c4c4","#dadada","#ececec","#ffffff"]},
     "legend": {"title": null, "orient": "none", "legendX": 7, "legendY": 117, "labelFontSize": 12.5, "rowPadding": 2, "symbolSize": 22, "labelOffset": 0}}}},
 {"width": 301, "height": 302,
  "encoding": {"x": {"field": "x", "type": "quantitative", "scale": {"domain": [-15, 15], "nice": false, "zero": false}, "axis": {"values": [-15,-12,-9,-6,-3,0,3,6,9,12,15], "title": "X [mm]", "zindex": 1}},
               "y": {"field": "y", "type": "quantitative", "scale": {"domain": [-15, 15], "nice": false, "zero": false}, "axis": {"orient": "right", "values": [-15,-12,-9,-6,-3,0,3,6,9,12,15], "title": null, "zindex": 1}}},
  "layer": [
   {"data": {"name": "c3"}, "mark": {"type": "line", "clip": true, "stroke": "#505050", "strokeWidth": 0.9, "strokeJoin": "round"},
    "encoding": {"fill": {"field": "l", "type": "nominal", "scale": {"domain": ["250-260","240-250","230-240","220-230","210-220","200-210","190-200","180-190"], "range": ["#7b7b7b","#8b8b8b","#9d9d9d","#b0b0b0","#c5c5c5","#d9d9d9","#ebebeb","#fafafa"]}, "legend": null}, "detail": {"field": "p", "type": "nominal"}, "order": {"value": null}}},
   {"data": {"name": "m3"}, "mark": {"type": "point", "shape": "circle", "filled": true, "fill": "#ffffff", "stroke": "#9a9a9a", "strokeWidth": 0.6, "size": 140, "opacity": 1}},
   {"data": {"name": "t3"}, "mark": {"type": "text", "align": "left", "baseline": "middle", "fontSize": 16.5, "color": "#f5f5f5"}, "encoding": {"text": {"field": "t"}}}
  ]},
 {"width": 301, "height": 302,
  "encoding": {"x": {"field": "x", "type": "quantitative", "scale": {"domain": [-15, 15], "nice": false, "zero": false}, "axis": {"values": [-15,-12,-9,-6,-3,0,3,6,9,12,15], "title": "X [mm]", "zindex": 1}},
               "y": {"field": "y", "type": "quantitative", "scale": {"domain": [-15, 15], "nice": false, "zero": false}, "axis": {"orient": "right", "values": [-15,-12,-9,-6,-3,0,3,6,9,12,15], "title": "Y [mm]", "titleAngle": 270, "titleBaseline": "top", "zindex": 1}}},
  "layer": [
   {"data": {"name": "c4"}, "mark": {"type": "line", "clip": true, "stroke": "#505050", "strokeWidth": 0.9, "strokeJoin": "round"},
    "encoding": {"fill": {"field": "l", "type": "nominal", "scale": {"domain": ["250-260","240-250","230-240","220-230","210-220","200-210","190-200","180-190"], "range": ["#7b7b7b","#8b8b8b","#9d9d9d","#b0b0b0","#c5c5c5","#d9d9d9","#ebebeb","#fafafa"]}, "legend": null}, "detail": {"field": "p", "type": "nominal"}, "order": {"value": null}}},
   {"data": {"name": "m4"}, "mark": {"type": "point", "shape": "circle", "filled": true, "fill": "#ffffff", "stroke": "#9a9a9a", "strokeWidth": 0.6, "size": 140, "opacity": 1}},
   {"data": {"name": "t4"}, "mark": {"type": "text", "align": "left", "baseline": "middle", "fontSize": 16.5, "color": "#f5f5f5"}, "encoding": {"text": {"field": "t"}}}
  ]},
 {"width": 101, "height": 302,
  "title": {"text": ["particle", "velocity", "[part/s]"], "anchor": "end", "frame": "group", "fontSize": 22, "fontWeight": "bold", "color": "#111", "baseline": "alphabetic", "lineHeight": 25.5, "offset": -102, "dx": -3},
  "data": {"name": "lv"},
  "mark": {"type": "square", "opacity": 0, "size": 22, "stroke": "#6e6e6e", "strokeWidth": 0.7},
  "encoding": {"fill": {"field": "l", "type": "nominal", "scale": {"domain": ["250-260","240-250","230-240","220-230","210-220","200-210","190-200","180-190"], "range": ["#7b7b7b","#8b8b8b","#9d9d9d","#b0b0b0","#c5c5c5","#d9d9d9","#ebebeb","#fafafa"]},
     "legend": {"title": null, "orient": "none", "legendX": 20, "legendY": 105, "labelFontSize": 14, "rowPadding": 3.1, "symbolSize": 22, "labelOffset": 0}}}},
 {"width": 301, "height": 302,
  "encoding": {"x": {"field": "x", "type": "quantitative", "scale": {"domain": [-15, 15], "nice": false, "zero": false}, "axis": {"values": [-15,-12,-9,-6,-3,0,3,6,9,12,15], "title": "X [mm]", "zindex": 1}},
               "y": {"field": "y", "type": "quantitative", "scale": {"domain": [-15, 15], "nice": false, "zero": false}, "axis": {"orient": "right", "values": [-15,-12,-9,-6,-3,0,3,6,9,12,15], "title": null, "zindex": 1}}},
  "layer": [
   {"data": {"name": "c5"}, "mark": {"type": "line", "clip": true, "stroke": "#505050", "strokeWidth": 0.9, "strokeJoin": "round"},
    "encoding": {"fill": {"field": "l", "type": "nominal", "scale": {"domain": ["2750-2800","2700-2750","2650-2700","2600-2650","2550-2600","2500-2550","2450-2500","2400-2450"], "range": ["#777777","#8a8a8a","#9e9e9e","#b3b3b3","#c8c8c8","#dbdbdb","#ebebeb","#f8f8f8"]}, "legend": null}, "detail": {"field": "p", "type": "nominal"}, "order": {"value": null}}},
   {"data": {"name": "m5"}, "mark": {"type": "point", "shape": "circle", "filled": true, "fill": "#ffffff", "stroke": "#9a9a9a", "strokeWidth": 0.6, "size": 140, "opacity": 1}},
   {"data": {"name": "t5"}, "mark": {"type": "text", "align": "left", "baseline": "middle", "fontSize": 16.5, "color": "#f5f5f5"}, "encoding": {"text": {"field": "t"}}}
  ]},
 {"width": 301, "height": 302,
  "encoding": {"x": {"field": "x", "type": "quantitative", "scale": {"domain": [-15, 15], "nice": false, "zero": false}, "axis": {"values": [-15,-12,-9,-6,-3,0,3,6,9,12,15], "title": "X [mm]", "zindex": 1}},
               "y": {"field": "y", "type": "quantitative", "scale": {"domain": [-15, 15], "nice": false, "zero": false}, "axis": {"orient": "right", "values": [-15,-12,-9,-6,-3,0,3,6,9,12,15], "title": "Y [mm]", "titleAngle": 270, "titleBaseline": "top", "zindex": 1}}},
  "layer": [
   {"data": {"name": "c6"}, "mark": {"type": "line", "clip": true, "stroke": "#505050", "strokeWidth": 0.9, "strokeJoin": "round"},
    "encoding": {"fill": {"field": "l", "type": "nominal", "scale": {"domain": ["2750-2800","2700-2750","2650-2700","2600-2650","2550-2600","2500-2550","2450-2500","2400-2450"], "range": ["#777777","#8a8a8a","#9e9e9e","#b3b3b3","#c8c8c8","#dbdbdb","#ebebeb","#f8f8f8"]}, "legend": null}, "detail": {"field": "p", "type": "nominal"}, "order": {"value": null}}},
   {"data": {"name": "m6"}, "mark": {"type": "point", "shape": "circle", "filled": true, "fill": "#ffffff", "stroke": "#9a9a9a", "strokeWidth": 0.6, "size": 140, "opacity": 1}},
   {"data": {"name": "t6"}, "mark": {"type": "text", "align": "left", "baseline": "middle", "fontSize": 16.5, "color": "#f5f5f5"}, "encoding": {"text": {"field": "t"}}}
  ]},
 {"width": 101, "height": 302,
  "title": {"text": ["particle", "temperature", "[part/s]"], "anchor": "end", "frame": "group", "fontSize": 22, "fontWeight": "bold", "color": "#111", "baseline": "alphabetic", "lineHeight": 25.5, "offset": -102, "dx": -3},
  "data": {"name": "lt"},
  "mark": {"type": "square", "opacity": 0, "size": 22, "stroke": "#6e6e6e", "strokeWidth": 0.7},
  "encoding": {"fill": {"field": "l", "type": "nominal", "scale": {"domain": ["2750-2800","2700-2750","2650-2700","2600-2650","2550-2600","2500-2550","2450-2500","2400-2450"], "range": ["#777777","#8a8a8a","#9e9e9e","#b3b3b3","#c8c8c8","#dbdbdb","#ebebeb","#f8f8f8"]},
     "legend": {"title": null, "orient": "none", "legendX": 13, "legendY": 113, "labelFontSize": 14, "rowPadding": 1.7, "symbolSize": 22, "labelOffset": 0}}}}
]
}
